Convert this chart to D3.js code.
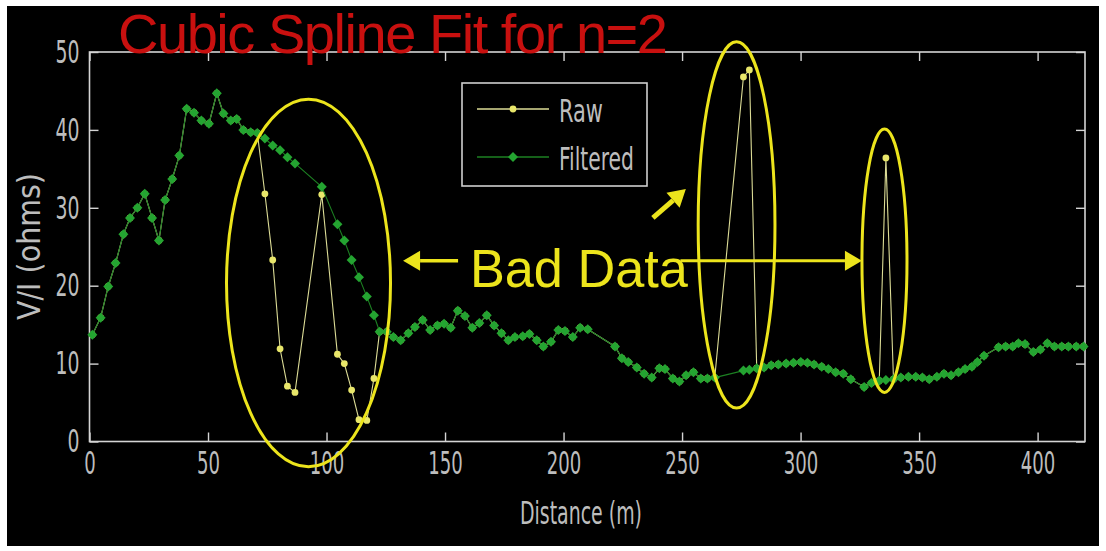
<!DOCTYPE html>
<html>
<head>
<meta charset="utf-8">
<script src="https://cdn.jsdelivr.net/npm/d3@7"></script>
<style>
  html, body { margin: 0; padding: 0; background: #ffffff; }
  svg { display: block; }
</style>
</head>
<body>
<svg id="chart" width="1106" height="551"></svg>
<script>
// Survey samples along the line (m)
const distance = [
  1.2, 4.7, 7.9, 11.0, 14.3, 17.1, 20.2, 23.3, 26.4, 29.3,
  31.9, 34.9, 37.9, 41.0, 44.1, 47.2, 50.4, 53.7, 56.5, 59.6,
  62.1, 64.9, 68.0, 70.8, 74.0, 77.3, 80.4, 83.5, 86.7, 98.0,
  104.6, 107.5, 110.6, 113.7, 117.0, 120.0, 122.4, 125.4, 128.2, 131.3,
  134.5, 137.3, 140.6, 143.7, 146.8, 149.6, 152.4, 155.4, 158.4, 161.5,
  164.5, 167.6, 170.7, 173.8, 176.7, 179.5, 182.8, 185.6, 188.7, 191.5,
  194.7, 197.8, 200.6, 203.9, 207.0, 210.2, 221.7, 224.6, 227.3, 230.9,
  234.0, 237.2, 240.4, 242.8, 246.1, 248.9, 251.7, 254.8, 257.9, 260.7,
  263.8, 275.9, 278.4, 281.5, 284.6, 287.6, 290.6, 293.9, 297.0, 300.1,
  302.9, 305.7, 308.9, 311.7, 314.8, 318.0, 321.2, 326.8, 329.9, 333.2,
  336.0, 339.2, 342.3, 345.5, 348.6, 351.4, 354.3, 357.5, 360.5, 363.5,
  366.6, 369.4, 372.3, 374.6, 377.4, 383.5, 386.5, 389.5, 391.9, 394.7,
  398.2, 401.2, 404.1, 407.1, 410.2, 413.0, 416.3, 419.4
];

// Measured V/I (ohms), including the bad readings
const rawValues = [
  13.7, 15.9, 19.9, 22.9, 26.6, 28.7, 30.0, 31.8, 28.7, 25.8,
  31.0, 33.7, 36.7, 42.7, 42.2, 41.2, 40.8, 44.7, 42.1, 41.2,
  41.4, 40.0, 39.7, 39.6, 31.8, 23.3, 11.9, 7.1, 6.3, 31.7,
  11.2, 10.0, 6.6, 2.8, 2.7, 8.1, 14.1, 14.1, 13.4, 13.0,
  13.9, 14.7, 15.6, 14.3, 14.9, 15.1, 14.6, 16.8, 16.1, 14.6,
  15.2, 16.2, 14.9, 13.9, 13.0, 13.4, 13.5, 13.8, 13.0, 12.2,
  12.8, 14.3, 14.2, 13.4, 14.6, 14.4, 12.2, 10.7, 10.2, 9.5,
  8.7, 8.2, 9.4, 9.3, 8.1, 7.7, 8.5, 8.9, 8.1, 8.1,
  8.2, 46.8, 47.7, 9.4, 9.5, 9.8, 9.9, 10.0, 10.1, 10.2,
  10.1, 9.9, 9.6, 9.3, 8.9, 8.7, 8.0, 7.0, 7.5, 7.8,
  36.4, 8.0, 8.2, 8.3, 8.3, 8.2, 8.0, 8.3, 8.7, 8.5,
  8.9, 9.3, 9.6, 10.2, 11.0, 12.1, 12.2, 12.2, 12.6, 12.5,
  11.5, 11.8, 12.6, 12.2, 12.2, 12.2, 12.2, 12.2
];

// Cubic spline filtered V/I (ohms)
const filteredValues = [
  13.7, 15.9, 19.9, 22.9, 26.6, 28.7, 30.0, 31.8, 28.7, 25.8,
  31.0, 33.7, 36.7, 42.7, 42.2, 41.2, 40.8, 44.7, 42.1, 41.2,
  41.4, 40.0, 39.7, 39.6, 38.9, 38.0, 37.4, 36.5, 35.7, 32.7,
  27.9, 25.8, 23.3, 21.1, 18.6, 16.2, 14.1, 14.1, 13.4, 13.0,
  13.9, 14.7, 15.6, 14.3, 14.9, 15.1, 14.6, 16.8, 16.1, 14.6,
  15.2, 16.2, 14.9, 13.9, 13.0, 13.4, 13.5, 13.8, 13.0, 12.2,
  12.8, 14.3, 14.2, 13.4, 14.6, 14.4, 12.2, 10.7, 10.2, 9.5,
  8.7, 8.2, 9.4, 9.3, 8.1, 7.7, 8.5, 8.9, 8.1, 8.1,
  8.2, 9.1, 9.2, 9.4, 9.5, 9.8, 9.9, 10.0, 10.1, 10.2,
  10.1, 9.9, 9.6, 9.3, 8.9, 8.7, 8.0, 7.0, 7.5, 7.8,
  7.9, 8.0, 8.2, 8.3, 8.3, 8.2, 8.0, 8.3, 8.7, 8.5,
  8.9, 9.3, 9.6, 10.2, 11.0, 12.1, 12.2, 12.2, 12.6, 12.5,
  11.5, 11.8, 12.6, 12.2, 12.2, 12.2, 12.2, 12.2
];

const xTicks = [0, 50, 100, 150, 200, 250, 300, 350, 400];
const yTicks = [0, 10, 20, 30, 40, 50];
const seriesNames = ["Raw", "Filtered"];
const titleText = "Cubic Spline Fit for n=2";
const xLabel = "Distance (m)";
const yLabel = "V/I (ohms)";
const noteText = "Bad Data";

// Ellipses around the bad readings (data units: centre, half-width, half-height)
const badRegions = [
  { cx: 92.4, cy: 20.35, rx: 34.6, ry: 23.6 },
  { cx: 273.0, cy: 27.8, rx: 16.2, ry: 23.5 },
  { cx: 335.4, cy: 23.2, rx: 9.5, ry: 16.9 }
];
// Annotation arrows (data units): from -> to
const noteArrows = [
  { x1: 155.5, y1: 23.2, x2: 132.3, y2: 23.2, w: 3.5 },
  { x1: 249.3, y1: 23.2, x2: 325.9, y2: 23.2, w: 3 },
  { x1: 237.7, y1: 28.7, x2: 251.6, y2: 32.4, w: 5 }
];
const notePos = { x: 160.5, y: 19.8 };

const W = 1106, H = 551;
const plot = { left: 89.5, right: 1085, top: 52, bottom: 441.5 };

const svg = d3.select("#chart");

// frame
svg.append("rect").attr("x", 0).attr("y", 0).attr("width", W).attr("height", H).attr("fill", "#ffffff");
svg.append("rect").attr("x", 7).attr("y", 6).attr("width", 1092).attr("height", 540).attr("fill", "#000000");

const x = d3.scaleLinear().domain([0, 420]).range([plot.left, plot.right]);
const y = d3.scaleLinear().domain([0, 50]).range([plot.bottom, plot.top]);

const axisColor = "#d4d4d4";
const labelFont = "'Liberation Sans Narrow', 'DejaVu Sans Condensed', 'Liberation Sans', sans-serif";

function labelText(sel, size) {
  sel.attr("font-family", labelFont)
     .attr("font-size", size)
     .attr("fill", "#bdbdbd")
     .attr("stroke", "none")
     .attr("lengthAdjust", "spacingAndGlyphs");
}

// axes with inward ticks on all four sides
const gx = svg.append("g").attr("transform", `translate(0,${plot.bottom})`)
  .call(d3.axisBottom(x).tickValues(xTicks).tickSizeInner(-9).tickSizeOuter(0).tickPadding(10));
const gxTop = svg.append("g").attr("transform", `translate(0,${plot.top})`)
  .call(d3.axisTop(x).tickValues(xTicks).tickSizeInner(-9).tickSizeOuter(0).tickFormat(""));
const gy = svg.append("g").attr("transform", `translate(${plot.left},0)`)
  .call(d3.axisLeft(y).tickValues(yTicks).tickSizeInner(-9).tickSizeOuter(0).tickPadding(10));
const gyRight = svg.append("g").attr("transform", `translate(${plot.right},0)`)
  .call(d3.axisRight(y).tickValues(yTicks).tickSizeInner(-9).tickSizeOuter(0).tickFormat(""));

[gx, gxTop, gy, gyRight].forEach(g => {
  g.select(".domain").remove();
  g.selectAll(".tick line").attr("stroke", axisColor).attr("stroke-width", 1.4);
});
gx.selectAll(".tick text").call(labelText, 32)
  .attr("textLength", d => String(d).length * 11.5);
gy.selectAll(".tick text").call(labelText, 32)
  .attr("textLength", d => String(d).length * 12);

svg.append("rect")
  .attr("x", plot.left).attr("y", plot.top)
  .attr("width", plot.right - plot.left).attr("height", plot.bottom - plot.top)
  .attr("fill", "none").attr("stroke", axisColor).attr("stroke-width", 1.6);

// axis titles
svg.append("text").text(xLabel)
  .attr("x", 581).attr("y", 524).attr("text-anchor", "middle")
  .call(labelText, 32).attr("textLength", 122);
svg.append("text").text(yLabel)
  .attr("transform", "translate(40,246.5) rotate(-90)").attr("text-anchor", "middle")
  .call(labelText, 32).attr("textLength", 147);

// series
const rawPts = distance.map((d, i) => [d, rawValues[i]]);
const filtPts = distance.map((d, i) => [d, filteredValues[i]]);
const line = d3.line().x(d => x(d[0])).y(d => y(d[1]));

const rawColor = "#e8e66a", rawLine = "#dcdc96";
const filtColor = "#24a431", filtLine = "#1c8022";

svg.append("path").datum(rawPts).attr("d", line)
  .attr("fill", "none").attr("stroke", rawLine).attr("stroke-width", 1.1);
svg.append("g").selectAll("circle").data(rawPts).join("circle")
  .attr("cx", d => x(d[0])).attr("cy", d => y(d[1])).attr("r", 3.4).attr("fill", rawColor);

const diamond = d3.symbol().type(d3.symbolSquare).size(50)();
svg.append("path").datum(filtPts).attr("d", line)
  .attr("fill", "none").attr("stroke", filtLine).attr("stroke-width", 1.1);
svg.append("g").selectAll("path").data(filtPts).join("path")
  .attr("d", diamond)
  .attr("transform", d => `translate(${x(d[0])},${y(d[1])}) rotate(45)`)
  .attr("fill", filtColor);

// legend
const lg = svg.append("g");
lg.append("rect").attr("x", 462).attr("y", 83).attr("width", 185).attr("height", 103)
  .attr("fill", "#000").attr("stroke", "#cfcfcf").attr("stroke-width", 1.6);
const legendRows = [
  { name: seriesNames[0], y: 109, line: rawLine, color: rawColor, marker: "circle", len: 44 },
  { name: seriesNames[1], y: 157, line: filtLine, color: filtColor, marker: "diamond", len: 75 }
];
legendRows.forEach(r => {
  lg.append("line").attr("x1", 477).attr("x2", 549).attr("y1", r.y).attr("y2", r.y)
    .attr("stroke", r.line).attr("stroke-width", 1.5);
  if (r.marker === "circle") {
    lg.append("circle").attr("cx", 513).attr("cy", r.y).attr("r", 3.4).attr("fill", r.color);
  } else {
    lg.append("path").attr("d", diamond).attr("transform", `translate(513,${r.y}) rotate(45)`).attr("fill", r.color);
  }
  lg.append("text").text(r.name).attr("x", 559).attr("y", r.y + 13)
    .call(labelText, 32).attr("textLength", r.len);
});

// bad-data annotations
const noteColor = "#ece41c";
badRegions.forEach(e => {
  svg.append("ellipse")
    .attr("cx", x(e.cx)).attr("cy", y(e.cy))
    .attr("rx", x(e.rx) - x(0)).attr("ry", y(0) - y(e.ry))
    .attr("fill", "none").attr("stroke", noteColor).attr("stroke-width", 3);
});

noteArrows.forEach(a => {
  const x1 = x(a.x1), y1 = y(a.y1), x2 = x(a.x2), y2 = y(a.y2);
  const ang = Math.atan2(y2 - y1, x2 - x1);
  const hl = 17, hw = 10;
  const bx = x2 - hl * Math.cos(ang), by = y2 - hl * Math.sin(ang);
  svg.append("line").attr("x1", x1).attr("y1", y1).attr("x2", bx).attr("y2", by)
    .attr("stroke", noteColor).attr("stroke-width", a.w);
  const px = -Math.sin(ang) * hw, py = Math.cos(ang) * hw;
  svg.append("path")
    .attr("d", `M${x2},${y2}L${bx + px},${by + py}L${bx - px},${by - py}Z`)
    .attr("fill", noteColor);
});

svg.append("text").text(noteText)
  .attr("x", x(notePos.x)).attr("y", y(notePos.y))
  .attr("font-family", "'Liberation Sans', Arial, sans-serif")
  .attr("font-size", 53).attr("fill", noteColor)
  .attr("textLength", 218).attr("lengthAdjust", "spacingAndGlyphs");

// title
svg.append("text").text(titleText)
  .attr("x", 118).attr("y", 53)
  .attr("font-family", "'Liberation Sans', Arial, sans-serif")
  .attr("font-size", 56).attr("fill", "#c8100f")
  .attr("textLength", 550).attr("lengthAdjust", "spacing");
</script>
</body>
</html>
